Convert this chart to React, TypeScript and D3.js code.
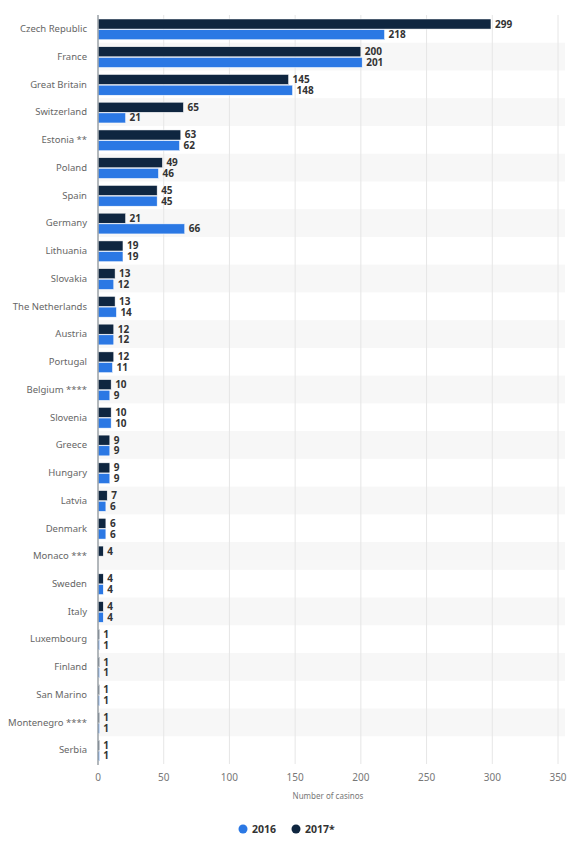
import React, { useEffect, useRef } from 'react';
import * as d3 from 'd3';

const countries = [
  'Czech Republic', 'France', 'Great Britain', 'Switzerland', 'Estonia **', 'Poland', 'Spain',
  'Germany', 'Lithuania', 'Slovakia', 'The Netherlands', 'Austria', 'Portugal', 'Belgium ****',
  'Slovenia', 'Greece', 'Hungary', 'Latvia', 'Denmark', 'Monaco ***', 'Sweden', 'Italy',
  'Luxembourg', 'Finland', 'San Marino', 'Montenegro ****', 'Serbia',
];
const values2017 = [299, 200, 145, 65, 63, 49, 45, 21, 19, 13, 13, 12, 12, 10, 10, 9, 9, 7, 6, 4, 4, 4, 1, 1, 1, 1, 1];
const values2016: (number | null)[] = [218, 201, 148, 21, 62, 46, 45, 66, 19, 12, 14, 12, 11, 9, 10, 9, 9, 6, 6, null, 4, 4, 1, 1, 1, 1, 1];
const xTicks = [0, 50, 100, 150, 200, 250, 300, 350];
const seriesNames = ['2017*', '2016'];
const legendNames = ['2016', '2017*'];

const COLOR_2016 = '#2b78e4';
const COLOR_2017 = '#0f2640';
const FONT = '"Noto Sans", "Open Sans", Arial, sans-serif';

export default function App() {
  const svgRef = useRef<SVGSVGElement>(null);

  useEffect(() => {
    document.body.style.margin = '0';
    if (!svgRef.current) return;
    const W = 579;
    const H = 844;
    const left = 98;
    const right = 558;
    const top = 15;
    const bottom = 764;

    const svg = d3.select(svgRef.current);
    svg.selectAll('*').remove();
    svg.attr('width', W).attr('height', H);

    const x = d3.scaleLinear().domain([0, 350]).range([left, right]);
    const y = d3.scaleBand().domain(countries).range([top, bottom]);
    const inner = d3.scaleBand().domain(seriesNames).range([4, y.bandwidth() - 3]).paddingInner(0.06);

    // stripes
    svg.append('g')
      .selectAll('rect')
      .data(countries.filter((_, i) => i % 2 === 1))
      .enter()
      .append('rect')
      .attr('x', left)
      .attr('width', 565 - left)
      .attr('y', d => y(d)!)
      .attr('height', y.bandwidth())
      .attr('fill', '#f7f7f7');

    // grid
    svg.append('g')
      .selectAll('line')
      .data(xTicks.slice(1))
      .enter()
      .append('line')
      .attr('x1', d => x(d))
      .attr('x2', d => x(d))
      .attr('y1', top)
      .attr('y2', bottom)
      .attr('stroke', '#e6e6e6')
      .attr('stroke-width', 1);

    // tick labels
    svg.append('g')
      .selectAll('text')
      .data(xTicks)
      .enter()
      .append('text')
      .attr('x', d => x(d))
      .attr('y', 781)
      .attr('text-anchor', 'middle')
      .attr('fill', '#777')
      .style('font-family', FONT)
      .style('font-size', '10px')
      .text(d => d);

    svg.append('text')
      .attr('x', (left + right) / 2)
      .attr('y', 799)
      .attr('text-anchor', 'middle')
      .attr('fill', '#777')
      .style('font-family', FONT)
      .style('font-size', '8px')
      .text('Number of casinos');

    // category labels
    svg.append('g')
      .selectAll('text')
      .data(countries)
      .enter()
      .append('text')
      .attr('x', 87)
      .attr('y', d => y(d)! + y.bandwidth() / 2)
      .attr('dy', '0.35em')
      .attr('text-anchor', 'end')
      .attr('fill', '#666')
      .style('font-family', FONT)
      .style('font-size', '9.5px')
      .text(d => d);

    const series = [
      { name: '2017*', values: values2017 as (number | null)[], color: COLOR_2017 },
      { name: '2016', values: values2016, color: COLOR_2016 },
    ];

    series.forEach(s => {
      const rows = countries
        .map((c, i) => ({ c, v: s.values[i] }))
        .filter(d => d.v !== null) as { c: string; v: number }[];
      const g = svg.append('g');
      g.selectAll('rect')
        .data(rows)
        .enter()
        .append('rect')
        .attr('x', left)
        .attr('y', d => y(d.c)! + inner(s.name)!)
        .attr('width', d => Math.max(x(d.v) - left, 1.5))
        .attr('height', inner.bandwidth())
        .attr('fill', s.color)
        .attr('stroke', '#fff')
        .attr('stroke-width', 0.5);
      g.selectAll('text')
        .data(rows)
        .enter()
        .append('text')
        .attr('x', d => x(d.v) + 4)
        .attr('y', d => y(d.c)! + inner(s.name)! + inner.bandwidth() / 2)
        .attr('dy', '0.35em')
        .attr('fill', '#333')
        .style('font-family', FONT)
        .style('font-size', '10px')
        .style('font-weight', 'bold')
        .text(d => d.v);
    });

    // axis line
    svg.append('line')
      .attr('x1', left)
      .attr('x2', left)
      .attr('y1', top)
      .attr('y2', bottom + 1)
      .attr('stroke', '#9aa0a6')
      .attr('stroke-width', 1.5);

    // legend
    const legendX = [243, 296];
    const legendColors = [COLOR_2016, COLOR_2017];
    const lg = svg.append('g');
    legendNames.forEach((n, i) => {
      lg.append('circle')
        .attr('cx', legendX[i])
        .attr('cy', 829)
        .attr('r', 4.5)
        .attr('fill', legendColors[i]);
      lg.append('text')
        .attr('x', legendX[i] + 9)
        .attr('y', 829)
        .attr('dy', '0.35em')
        .attr('fill', '#333')
        .style('font-family', FONT)
        .style('font-size', '10.5px')
        .style('font-weight', 'bold')
        .text(n);
    });
  }, []);

  return <svg ref={svgRef} style={{ display: 'block', background: '#fff' }}></svg>;
}
